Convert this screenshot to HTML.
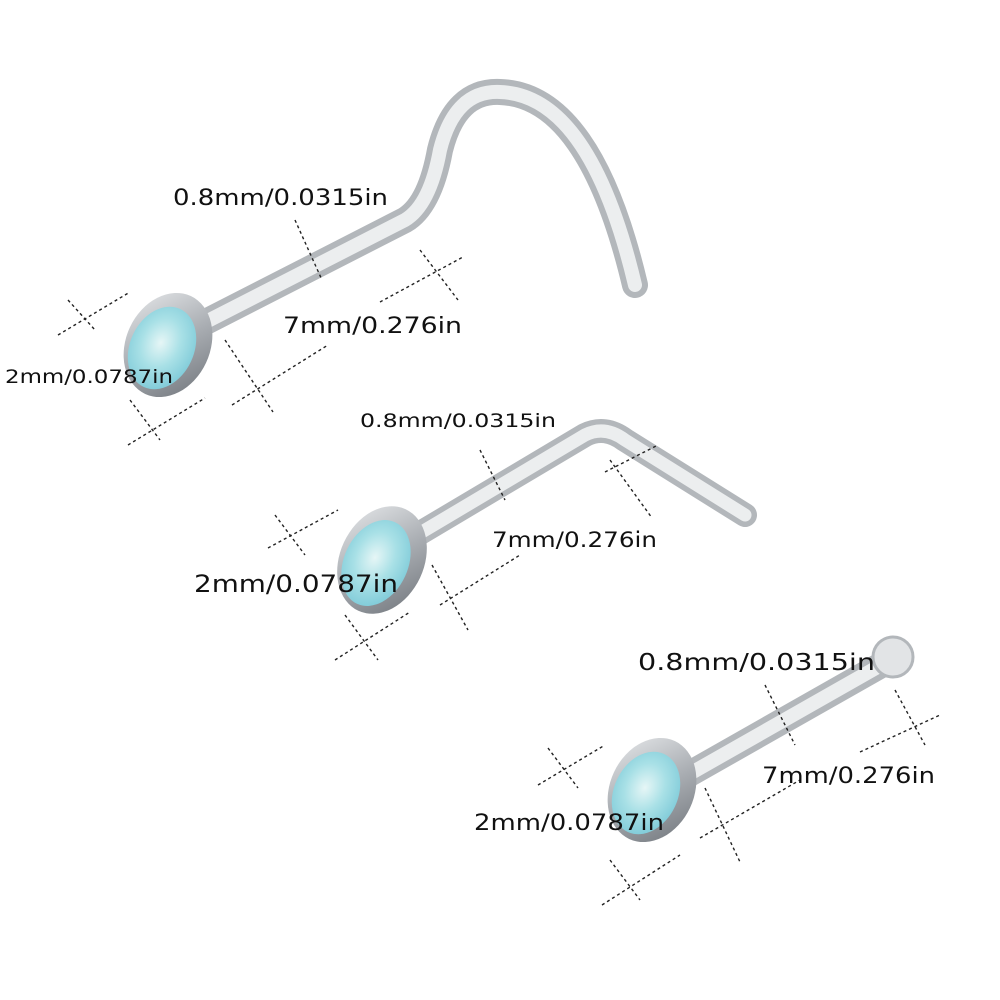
<!DOCTYPE html>
<html><head><meta charset="utf-8"><style>
html,body{margin:0;padding:0;background:#fff;width:1000px;height:1000px;overflow:hidden}
text{font-family:"DejaVu Sans","Liberation Sans",sans-serif;fill:#111}
</style></head><body>
<svg width="1000" height="1000" viewBox="0 0 1000 1000" xmlns="http://www.w3.org/2000/svg">
<defs>
<radialGradient id="gem" cx="45%" cy="45%" r="60%">
<stop offset="0" stop-color="#e6f6f6"/><stop offset="0.5" stop-color="#a8e0e6"/><stop offset="1" stop-color="#7ecad8"/>
</radialGradient>
<linearGradient id="bez" x1="0" y1="0" x2="1" y2="1">
<stop offset="0" stop-color="#e8eaec"/><stop offset="0.5" stop-color="#a9adb2"/><stop offset="1" stop-color="#6f747a"/>
</linearGradient>
</defs>
<g fill="none" stroke-linecap="round" stroke-linejoin="round">
<path d="M190 330 L405 220 Q430 205 440 150 Q455 90 500 92 Q590 95 635 285" stroke="#b3b7bb" stroke-width="26"/>
<path d="M190 330 L405 220 Q430 205 440 150 Q455 90 500 92 Q590 95 635 285" stroke="#eceeef" stroke-width="14"/>
<path d="M400 545 L585 435 Q605 425 625 440 L745 515" stroke="#b3b7bb" stroke-width="24"/>
<path d="M400 545 L585 435 Q605 425 625 440 L745 515" stroke="#eceeef" stroke-width="13"/>
<path d="M670 785 L890 660" stroke="#b3b7bb" stroke-width="26"/>
<path d="M670 785 L890 660" stroke="#eceeef" stroke-width="14"/>
</g>
<circle cx="893" cy="657" r="20" fill="#e2e4e6" stroke="#b3b7bb" stroke-width="3"/>
<g>
<ellipse cx="168" cy="345" rx="42" ry="54" transform="rotate(25 168 345)" fill="url(#bez)"/>
<ellipse cx="162" cy="348" rx="32" ry="43" transform="rotate(25 162 348)" fill="url(#gem)"/>
<ellipse cx="382" cy="560" rx="42" ry="56" transform="rotate(25 382 560)" fill="url(#bez)"/>
<ellipse cx="376" cy="563" rx="32" ry="45" transform="rotate(25 376 563)" fill="url(#gem)"/>
<ellipse cx="652" cy="790" rx="42" ry="54" transform="rotate(25 652 790)" fill="url(#bez)"/>
<ellipse cx="646" cy="793" rx="32" ry="43" transform="rotate(25 646 793)" fill="url(#gem)"/>
</g>
<g stroke="#222" stroke-width="1.4" stroke-dasharray="3 3" fill="none">
<path d="M58 335 L130 292 M68 300 L95 330"/>
<path d="M128 445 L205 398 M130 400 L160 440"/>
<path d="M232 405 L328 345 M225 340 L273 412"/>
<path d="M380 302 L463 257 M420 250 L458 300"/>
<path d="M295 220 L322 280"/>
<path d="M268 548 L338 510 M275 515 L305 555"/>
<path d="M335 660 L410 612 M345 615 L378 660"/>
<path d="M440 605 L520 555 M432 565 L468 630"/>
<path d="M480 450 L505 500"/>
<path d="M605 472 L658 445 M610 460 L652 518"/>
<path d="M538 785 L605 745 M548 748 L578 788"/>
<path d="M602 905 L680 855 M610 860 L640 900"/>
<path d="M700 838 L800 780 M705 788 L740 862"/>
<path d="M860 752 L940 715 M895 690 L925 745"/>
<path d="M765 685 L795 745"/>
</g>
<g lengthAdjust="spacingAndGlyphs">
<text x="173" y="205" font-size="22" textLength="215" lengthAdjust="spacingAndGlyphs">0.8mm/0.0315in</text>
<text x="283" y="333" font-size="22" textLength="179" lengthAdjust="spacingAndGlyphs">7mm/0.276in</text>
<text x="5" y="383" font-size="19" textLength="168" lengthAdjust="spacingAndGlyphs">2mm/0.0787in</text>
<text x="360" y="427" font-size="19" textLength="196" lengthAdjust="spacingAndGlyphs">0.8mm/0.0315in</text>
<text x="492" y="547" font-size="21" textLength="165" lengthAdjust="spacingAndGlyphs">7mm/0.276in</text>
<text x="194" y="592" font-size="24" textLength="204" lengthAdjust="spacingAndGlyphs">2mm/0.0787in</text>
<text x="638" y="670" font-size="23" textLength="237" lengthAdjust="spacingAndGlyphs">0.8mm/0.0315in</text>
<text x="762" y="783" font-size="22" textLength="173" lengthAdjust="spacingAndGlyphs">7mm/0.276in</text>
<text x="474" y="830" font-size="22" textLength="190" lengthAdjust="spacingAndGlyphs">2mm/0.0787in</text>
</g>
</svg>
</body></html>
